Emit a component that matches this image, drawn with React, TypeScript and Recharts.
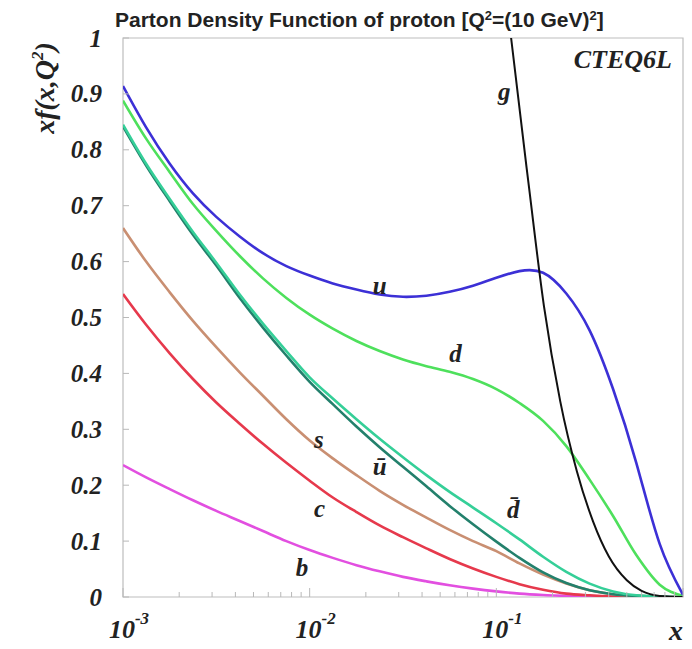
import React from 'react';
import { LineChart, Line, XAxis, YAxis, ReferenceArea, ReferenceDot } from 'recharts';

// x grid (log spaced, 1/8 decade) shared by the quark curves
const X_GRID = [0.001, 0.00133, 0.00178, 0.00237, 0.00316, 0.00422, 0.00562, 0.0075, 0.01, 0.0133, 0.0178, 0.0237, 0.0316, 0.0422, 0.0562, 0.075, 0.1, 0.133, 0.178, 0.237, 0.316, 0.422, 0.562, 0.75, 1];

const U = [0.914, 0.84, 0.775, 0.722, 0.68, 0.645, 0.615, 0.592, 0.575, 0.561, 0.55, 0.541, 0.537, 0.539, 0.546, 0.557, 0.571, 0.583, 0.58, 0.543, 0.477, 0.372, 0.24, 0.095, 0.004];
const D = [0.888, 0.82, 0.76, 0.703, 0.655, 0.61, 0.57, 0.535, 0.505, 0.48, 0.458, 0.44, 0.425, 0.413, 0.403, 0.39, 0.372, 0.347, 0.315, 0.27, 0.21, 0.145, 0.075, 0.022, 0.002];
const UBAR = [0.842, 0.772, 0.708, 0.648, 0.593, 0.535, 0.482, 0.432, 0.385, 0.345, 0.305, 0.268, 0.233, 0.198, 0.163, 0.13, 0.099, 0.07, 0.044, 0.025, 0.012, 0.005, 0.002, 0.0005, 0];
const DBAR = [0.845, 0.775, 0.712, 0.653, 0.598, 0.541, 0.489, 0.44, 0.393, 0.355, 0.318, 0.283, 0.25, 0.218, 0.188, 0.16, 0.132, 0.103, 0.072, 0.045, 0.024, 0.01, 0.003, 0.001, 0];
const S = [0.66, 0.6, 0.545, 0.494, 0.447, 0.402, 0.36, 0.318, 0.28, 0.248, 0.218, 0.19, 0.165, 0.142, 0.12, 0.1, 0.082, 0.06, 0.04, 0.024, 0.012, 0.005, 0.002, 0.0005, 0];
const C = [0.542, 0.487, 0.436, 0.39, 0.348, 0.31, 0.274, 0.24, 0.208, 0.178, 0.152, 0.128, 0.107, 0.087, 0.068, 0.051, 0.036, 0.023, 0.013, 0.006, 0.003, 0.001, 0, 0, 0];
const B = [0.236, 0.214, 0.193, 0.173, 0.154, 0.136, 0.118, 0.1, 0.084, 0.07, 0.057, 0.046, 0.036, 0.028, 0.021, 0.015, 0.01, 0.006, 0.0035, 0.002, 0.001, 0.0003, 0, 0, 0];

// gluon has its own grid, it leaves the frame at the top
const G_X = [0.08, 0.1, 0.12, 0.15, 0.18, 0.22, 0.27, 0.33, 0.4, 0.5, 0.6, 0.75, 1];
const G = [1.6, 1.25, 1.0, 0.73, 0.52, 0.35, 0.225, 0.135, 0.073, 0.03, 0.011, 0.002, 0];

const X_TICKS = [
  0.001, 0.002, 0.003, 0.004, 0.005, 0.006, 0.007, 0.008, 0.009,
  0.01, 0.02, 0.03, 0.04, 0.05, 0.06, 0.07, 0.08, 0.09,
  0.1, 0.2, 0.3, 0.4, 0.5, 0.6, 0.7, 0.8, 0.9, 1,
];
const X_LABELS: Record<string, string> = { '0.001': '-3', '0.01': '-2', '0.1': '-1' };
const Y_TICKS = [0, 0.1, 0.2, 0.3, 0.4, 0.5, 0.6, 0.7, 0.8, 0.9, 1];

// curve name labels, placed in data coordinates
const CURVE_LABELS = [
  { text: 'u', x: 0.0237, y: 0.558 },
  { text: 'd', x: 0.0604, y: 0.435 },
  { text: 's', x: 0.0112, y: 0.281 },
  { text: 'ū', x: 0.0237, y: 0.233 },
  { text: 'c', x: 0.0113, y: 0.159 },
  { text: 'b', x: 0.0091, y: 0.052 },
  { text: 'd̄', x: 0.1233, y: 0.157 },
  { text: 'g', x: 0.1104, y: 0.905 },
];

const toPoints = (xs: number[], ys: number[]) => xs.map((x, i) => ({ x, y: ys[i] }));

const SERIES = [
  { name: 'b', color: '#e24fe0', curve: 'monotone', data: toPoints(X_GRID, B) },
  { name: 'c', color: '#e6394c', curve: 'monotone', data: toPoints(X_GRID, C) },
  { name: 's', color: '#c98f72', curve: 'monotone', data: toPoints(X_GRID, S) },
  { name: 'ubar', color: '#23806c', curve: 'monotone', data: toPoints(X_GRID, UBAR) },
  { name: 'dbar', color: '#35cf98', curve: 'monotone', data: toPoints(X_GRID, DBAR) },
  { name: 'd', color: '#4ee05c', curve: 'monotone', data: toPoints(X_GRID, D) },
  { name: 'u', color: '#3c30d6', curve: 'natural', data: toPoints(X_GRID, U) },
  { name: 'g', color: '#111111', curve: 'monotone', data: toPoints(G_X, G) },
];

const SERIF = '"Liberation Serif", "DejaVu Serif", serif';
const SANS = '"Liberation Sans", Arial, sans-serif';

const XTick = (props: any) => {
  const { x, y, payload } = props;
  const v = payload.value;
  const exp = X_LABELS[String(v)];
  const major = exp !== undefined || v === 1;
  return (
    <g>
      <line x1={x} x2={x} y1={y} y2={y - (major ? 9 : 5)} stroke="#b8b8b8" strokeWidth={1} />
      {exp && (
        <text x={x + 6} y={y + 41} textAnchor="middle" fontFamily={SERIF} fontWeight="bold" fontStyle="italic" fontSize={26} fill="#222">
          10<tspan dy={-14} fontSize={17}>{exp}</tspan>
        </text>
      )}
    </g>
  );
};

const YTick = (props: any) => {
  const { x, y, payload } = props;
  const v = payload.value;
  const label = v === 0 ? '0' : v === 1 ? '1' : v.toFixed(1);
  return (
    <g>
      <line x1={x} x2={x + 6} y1={y} y2={y} stroke="#b8b8b8" strokeWidth={1} />
      <text x={x - 21} y={y} textAnchor="end" dominantBaseline="central" fontFamily={SERIF} fontWeight="bold" fontStyle="italic" fontSize={25} fill="#222">
        {label}
      </text>
    </g>
  );
};

const CurveLabel = (text: string) => (props: any) => (
  <text x={props.cx} y={props.cy} textAnchor="middle" dominantBaseline="central" fontFamily={SERIF} fontWeight="bold" fontStyle="italic" fontSize={25} fill="#222">
    {text}
  </text>
);

export default function App() {
  return (
    <div style={{ position: 'absolute', left: 0, top: 0, width: 692, height: 649, background: '#fff' }}>
      <LineChart width={692} height={649} margin={{ top: 38, right: 9, bottom: 22, left: 63 }}>
        <XAxis
          dataKey="x"
          type="number"
          scale="log"
          domain={[0.001, 1]}
          ticks={X_TICKS}
          interval={0}
          allowDataOverflow
          height={30}
          axisLine={false}
          tickLine={false}
          tickSize={0}
          tickMargin={0}
          tick={<XTick />}
        />
        <YAxis
          type="number"
          domain={[0, 1]}
          ticks={Y_TICKS}
          interval={0}
          allowDataOverflow
          width={60}
          axisLine={false}
          tickLine={false}
          tickSize={0}
          tickMargin={0}
          tick={<YTick />}
        />
        <ReferenceArea x1={0.001} x2={1} y1={0} y2={1} fill="none" stroke="#bdbdbd" strokeWidth={1.2} />
        {SERIES.map((s) => (
          <Line
            key={s.name}
            data={s.data}
            dataKey="y"
            type={s.curve as any}
            stroke={s.color}
            strokeWidth={s.name === 'g' ? 2 : 2.6}
            dot={false}
            activeDot={false}
            isAnimationActive={false}
          />
        ))}
        {CURVE_LABELS.map((l) => (
          <ReferenceDot key={l.text} x={l.x} y={l.y} r={0} shape={CurveLabel(l.text)} />
        ))}
      </LineChart>
      <svg width={692} height={649} style={{ position: 'absolute', left: 0, top: 0, pointerEvents: 'none' }}>
        <text x={115} y={27} fontFamily={SANS} fontWeight="bold" fontSize={21} fill="#222">
          Parton Density Function of proton [Q<tspan dy={-7} fontSize={13}>2</tspan>
          <tspan dy={7}>=(10 GeV)</tspan>
          <tspan dy={-7} fontSize={13}>2</tspan>
          <tspan dy={7}>]</tspan>
        </text>
        <text
          transform="translate(54, 88) rotate(-90)"
          textAnchor="middle"
          fontFamily={SERIF}
          fontWeight="bold"
          fontStyle="italic"
          fontSize={28}
          fill="#222"
        >
          xf(x,Q<tspan dy={-11} fontSize={17}>2</tspan>
          <tspan dy={11}>)</tspan>
        </text>
        <text x={672} y={68} textAnchor="end" fontFamily={SERIF} fontWeight="bold" fontStyle="italic" fontSize={26} fill="#222">
          CTEQ6L
        </text>
        <text x={676} y={640} textAnchor="middle" fontFamily={SERIF} fontWeight="bold" fontStyle="italic" fontSize={28} fill="#222">
          x
        </text>
      </svg>
    </div>
  );
}
